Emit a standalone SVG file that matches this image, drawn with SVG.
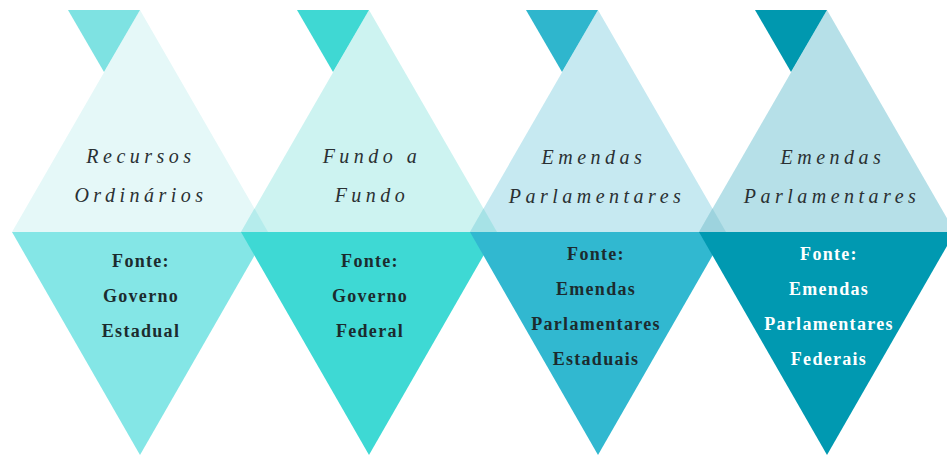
<svg xmlns="http://www.w3.org/2000/svg" width="947" height="456" viewBox="0 0 947 456">
<style>
.t{font-family:"Liberation Serif","Times New Roman",serif;font-style:italic;font-size:20px;letter-spacing:4.5px;fill:#2a3033;text-anchor:middle}
.b{font-family:"Liberation Serif","Times New Roman",serif;font-weight:bold;font-size:18px;letter-spacing:1.3px;fill:#1c2b2e;text-anchor:middle}
.w{fill:#ffffff}
</style>
<rect width="947" height="456" fill="#ffffff"/>
<g id="node1">
<polygon points="140,10 12,232 268,232" fill="#e5f8f8"/>
<polygon points="12,232 268,232 140,455" fill="#84e6e6"/>
<polygon points="68,10 140,10 104,72" fill="#7ee2e2"/>
<text class="t" x="141" y="163">Recursos</text>
<text class="t" x="141" y="202">Ordinários</text>
<text class="b" x="141" y="267">Fonte:</text>
<text class="b" x="141" y="302">Governo</text>
<text class="b" x="141" y="337">Estadual</text>
</g>
<g id="node2">
<polygon points="369,10 241,232 497,232" fill="#cdf3f1"/>
<polygon points="241,232 268,232 254.5,208.6" fill="#b5ecec"/>
<polygon points="241,232 497,232 369,455" fill="#3ed9d4"/>
<polygon points="297,10 369,10 333,72" fill="#3fd8d3"/>
<text class="t" x="372" y="163">Fundo a</text>
<text class="t" x="372" y="202">Fundo</text>
<text class="b" x="370" y="267">Fonte:</text>
<text class="b" x="370" y="302">Governo</text>
<text class="b" x="370" y="337">Federal</text>
</g>
<g id="node3">
<polygon points="598,10 470,232 726,232" fill="#c6e9f1"/>
<polygon points="470,232 497,232 483.5,208.6" fill="#a6e2e6"/>
<polygon points="470,232 726,232 598,455" fill="#31b8d0"/>
<polygon points="526,10 598,10 562,72" fill="#2fb6cd"/>
<text class="t" x="594" y="164">Emendas</text>
<text class="t" x="597" y="203">Parlamentares</text>
<text class="b" x="596" y="260">Fonte:</text>
<text class="b" x="596" y="295">Emendas</text>
<text class="b" x="596" y="330">Parlamentares</text>
<text class="b" x="596" y="365">Estaduais</text>
</g>
<g id="node4">
<polygon points="827,10 699,232 955,232" fill="#b6e0e8"/>
<polygon points="699,232 726,232 712.5,208.6" fill="#9dd3de"/>
<polygon points="699,232 955,232 827,455" fill="#0099b1"/>
<polygon points="755,10 827,10 791,72" fill="#0098af"/>
<text class="t" x="833" y="164">Emendas</text>
<text class="t" x="832" y="203">Parlamentares</text>
<text class="b w" x="829" y="260">Fonte:</text>
<text class="b w" x="829" y="295">Emendas</text>
<text class="b w" x="829" y="330">Parlamentares</text>
<text class="b w" x="829" y="365">Federais</text>
</g>
<g id="connectors"></g>
</svg>
